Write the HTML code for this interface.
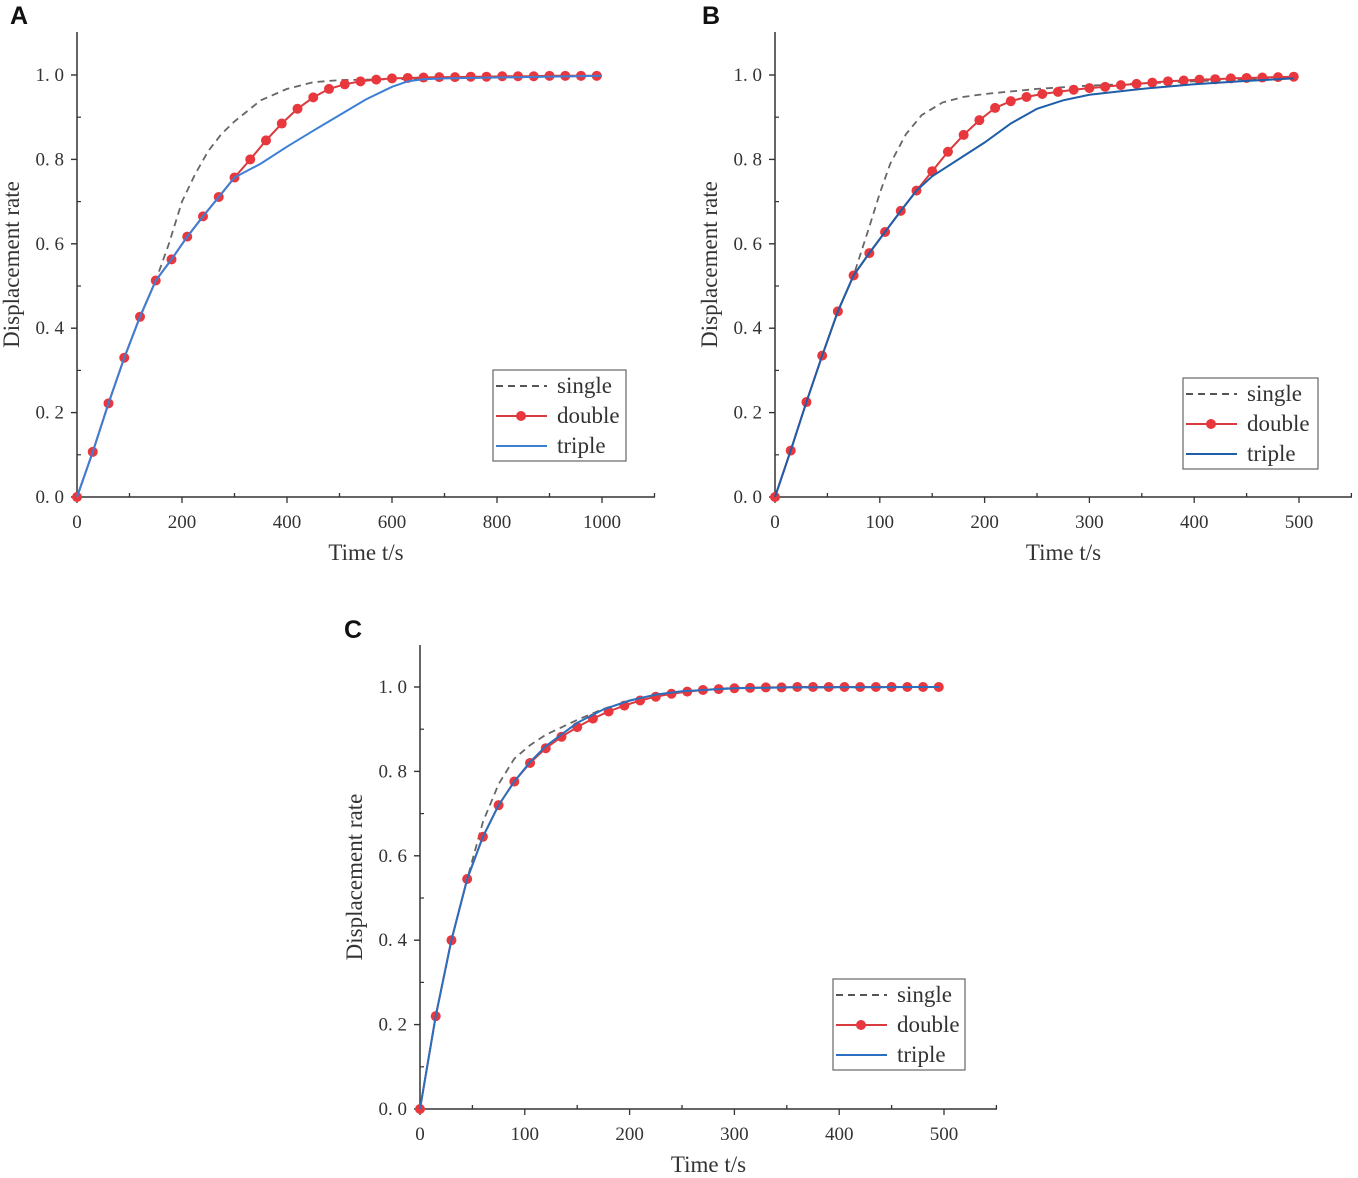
<!DOCTYPE html>
<html><head><meta charset="utf-8"><style>
html,body{margin:0;padding:0;background:#fff;}
svg{display:block;}
text{font-family:"Liberation Serif",serif;fill:#333;}
.pl{font-family:"Liberation Sans",sans-serif;font-weight:bold;font-size:25px;fill:#111;}
</style></head><body>
<svg id="fig" width="1358" height="1178" viewBox="0 0 1358 1178" xmlns="http://www.w3.org/2000/svg"></svg>
<script>
// Panel A data
const aDoubleX=[0,30,60,90,120,150,180,210,240,270,300,330,360,390,420,450,480,510,540,570,600,630,660,690,720,750,780,810,840,870,900,930,960,990];
const aDoubleY=[0,0.107,0.222,0.33,0.427,0.513,0.563,0.617,0.665,0.711,0.757,0.80,0.845,0.885,0.92,0.947,0.967,0.978,0.985,0.989,0.992,0.993,0.994,0.995,0.995,0.996,0.996,0.997,0.997,0.997,0.998,0.998,0.998,0.998];
const aTripleX=[0,30,60,90,120,150,180,210,240,270,300,350,400,450,500,550,600,630,660,700,800,1000];
const aTripleY=[0,0.107,0.222,0.33,0.427,0.513,0.563,0.617,0.665,0.711,0.757,0.79,0.83,0.868,0.905,0.942,0.972,0.985,0.99,0.992,0.994,0.998];
const aSingleX=[0,30,60,90,120,150,175,200,225,250,275,300,350,400,450,500,600,1000];
const aSingleY=[0,0.107,0.222,0.33,0.427,0.513,0.60,0.70,0.765,0.82,0.86,0.89,0.94,0.967,0.983,0.988,0.99,0.998];
// Panel B data
const bDoubleX=[0,15,30,45,60,75,90,105,120,135,150,165,180,195,210,225,240,255,270,285,300,315,330,345,360,375,390,405,420,435,450,465,480,495];
const bDoubleY=[0,0.11,0.225,0.335,0.44,0.525,0.578,0.628,0.678,0.726,0.772,0.818,0.858,0.893,0.922,0.938,0.948,0.955,0.96,0.965,0.969,0.972,0.976,0.979,0.982,0.985,0.987,0.989,0.99,0.992,0.993,0.994,0.995,0.996];
const bTripleX=[0,15,30,45,60,75,90,105,120,135,150,175,200,225,250,275,300,350,400,450,495];
const bTripleY=[0,0.11,0.225,0.335,0.44,0.525,0.578,0.628,0.678,0.726,0.76,0.80,0.84,0.885,0.92,0.94,0.953,0.967,0.978,0.986,0.992];
const bSingleX=[0,15,30,45,60,75,90,100,110,125,140,160,180,200,250,300,400,495];
const bSingleY=[0,0.11,0.225,0.335,0.44,0.525,0.64,0.72,0.79,0.86,0.905,0.935,0.948,0.955,0.967,0.975,0.985,0.995];
// Panel C data
const cDoubleX=[0,15,30,45,60,75,90,105,120,135,150,165,180,195,210,225,240,255,270,285,300,315,330,345,360,375,390,405,420,435,450,465,480,495];
const cDoubleY=[0,0.22,0.40,0.545,0.645,0.72,0.776,0.82,0.855,0.882,0.905,0.925,0.942,0.956,0.968,0.977,0.984,0.989,0.993,0.995,0.997,0.998,0.999,0.999,1,1,1,1,1,1,1,1,1,1];
const cTripleX=[0,15,30,45,60,75,90,105,120,150,175,200,225,250,300,350,495];
const cTripleY=[0,0.22,0.40,0.545,0.645,0.72,0.776,0.822,0.86,0.915,0.947,0.968,0.982,0.99,0.997,0.999,1];
const cSingleX=[0,15,30,45,60,75,90,105,120,150,175,200,225,250,300,495];
const cSingleY=[0,0.22,0.40,0.545,0.68,0.77,0.83,0.862,0.887,0.922,0.948,0.967,0.982,0.99,0.998,1];
const yTickLabels=["0. 0","0. 2","0. 4","0. 6","0. 8","1. 0"];
const yTickValues=[0,0.2,0.4,0.6,0.8,1.0];
const aXTicks=[0,200,400,600,800,1000];
const bXTicks=[0,100,200,300,400,500];
const cXTicks=[0,100,200,300,400,500];

const NS="http://www.w3.org/2000/svg";
const svg=document.getElementById('fig');
function el(tag,attrs,parent){const e=document.createElementNS(NS,tag);for(const k in attrs)e.setAttribute(k,attrs[k]);(parent||svg).appendChild(e);return e;}

function panel(cfg){
  const g=el('g',{});
  
  
  const sx=v=>cfg.x0+(v/cfg.xmax)*(cfg.x1-cfg.x0);
  const sy=v=>cfg.y0-v*(cfg.y0-cfg.y1);
  const lab=el('text',{x:cfg.lx,y:cfg.ly,class:'pl'},g);lab.textContent=cfg.id;
  
  
  const ax=el('path',{d:`M${cfg.x0} ${cfg.top}V${cfg.y0}H${cfg.right}`,stroke:'#333',fill:'none','stroke-width':1.5},g);
  
  
  for(let i=0;i<=10;i++){const yy=sy(i/10);
    if(i%2) el('line',{x1:cfg.x0,x2:cfg.x0+4,y1:yy,y2:yy,stroke:'#333','stroke-width':1.2},g);
    else el('line',{x1:cfg.x0-6,x2:cfg.x0,y1:yy,y2:yy,stroke:'#333','stroke-width':1.4},g);}
  yTickValues.forEach((v,i)=>{const t=el('text',{x:cfg.x0-13,y:sy(v)+6,'text-anchor':'end','font-size':19},g);t.textContent=yTickLabels[i];
    
    });
  const step=cfg.xt[1]-cfg.xt[0];
  for(let v=0;sx(v)<=cfg.right;v+=step/2){const xx=sx(v);const maj=!((v/step)%1);
    el('line',{x1:xx,x2:xx,y1:cfg.y0,y2:maj?cfg.y0+6:cfg.y0-4,stroke:'#333','stroke-width':1.3},g);}
  cfg.xt.forEach(v=>{const t=el('text',{x:sx(v),y:cfg.y0+31,'text-anchor':'middle','font-size':19},g);t.textContent=v;
    
    });
  const xt=el('text',{x:(cfg.x0+cfg.right)/2,y:cfg.y0+63,'text-anchor':'middle','font-size':23,fill:'#222'},g);xt.textContent='Time t/s';
  
  
  const ym=(cfg.y0+cfg.top)/2;
  const yx=cfg.x0-58;
  const yt=el('text',{x:yx,y:ym,'text-anchor':'middle','font-size':23,fill:'#222',transform:`rotate(-90 ${yx} ${ym})`},g);yt.textContent='Displacement rate';
  
  
  const pts=(X,Y)=>X.map((v,i)=>sx(v).toFixed(1)+','+sy(Y[i]).toFixed(1)).join(' ');
  const s=el('polyline',{points:pts(cfg.sX,cfg.sY),fill:'none',stroke:'#666','stroke-width':1.8,'stroke-dasharray':'7 5'},g);
  
  
  const d=el('polyline',{points:pts(cfg.dX,cfg.dY),fill:'none',stroke:'#d93a3e','stroke-width':2},g);
  
  
  cfg.dX.forEach((v,i)=>{const c=el('circle',{cx:sx(v),cy:sy(cfg.dY[i]),r:5,fill:'#e8383e'},g);
    
    });
  const t=el('polyline',{points:pts(cfg.tX,cfg.tY),fill:'none',stroke:cfg.blue,'stroke-width':2},g);
  
  
  const L=cfg.leg;
  const lg=el('g',{},g);
  
  
  el('rect',{x:L[0],y:L[1],width:L[2],height:91,fill:'#fff',stroke:'#666','stroke-width':1.2},lg);
  const names=['single','double','triple'];
  names.forEach((n,i)=>{const yy=L[1]+16+i*30;
    const st=i==0?{stroke:'#555','stroke-dasharray':'7 5'}:i==1?{stroke:'#d93a3e'}:{stroke:cfg.blue};
    el('line',Object.assign({x1:L[0]+3,x2:L[0]+54,y1:yy,y2:yy,'stroke-width':2},st),lg);
    if(i==1)el('circle',{cx:L[0]+28,cy:yy,r:5,fill:'#e8383e'},lg);
    const tx=el('text',{x:L[0]+64,y:yy+7,'font-size':23,fill:'#222'},lg);tx.textContent=n;
    
    });
}
panel({id:'A',lx:10,ly:24,x0:77,x1:602,xmax:1000,y0:497,y1:75,top:32,right:655,xt:aXTicks,
  sX:aSingleX,sY:aSingleY,dX:aDoubleX,dY:aDoubleY,tX:aTripleX,tY:aTripleY,blue:'#3b7fd6',leg:[493,370,133]});
panel({id:'B',lx:702,ly:24,x0:775,x1:1299,xmax:500,y0:497,y1:75,top:32,right:1352,xt:bXTicks,
  sX:bSingleX,sY:bSingleY,dX:bDoubleX,dY:bDoubleY,tX:bTripleX,tY:bTripleY,blue:'#1f5ea8',leg:[1183,378,135]});
panel({id:'C',lx:344,ly:638,x0:420,x1:944,xmax:500,y0:1109,y1:687,top:645,right:997,xt:cXTicks,
  sX:cSingleX,sY:cSingleY,dX:cDoubleX,dY:cDoubleY,tX:cTripleX,tY:cTripleY,blue:'#2a6fc0',leg:[833,979,132]});
</script>
</body></html>
